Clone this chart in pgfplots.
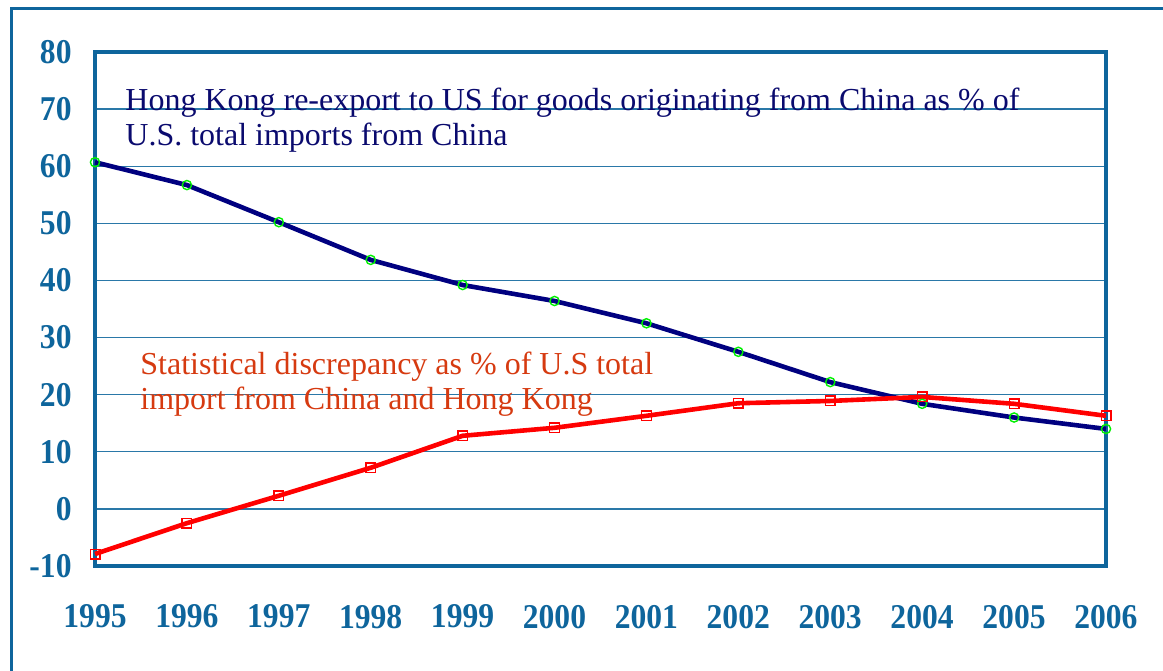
\documentclass[border=0pt]{standalone}
\usepackage{pgfplots}
\pgfplotsset{compat=1.18}
\usepackage{fontspec}
\setmainfont{Liberation Serif}
\definecolor{frameblue}{HTML}{0E659C}
\definecolor{gridblue}{HTML}{2A78A8}
\definecolor{navyline}{HTML}{000080}
\definecolor{navytext}{HTML}{0A0A6E}
\definecolor{redtext}{HTML}{D63A10}
\definecolor{mkgreen}{HTML}{00F000}
\begin{document}
\begin{tikzpicture}
\useasboundingbox (0,0) rectangle (581.5pt,335pt);
\begin{scope}
\clip (0,0) rectangle (581.5pt,335pt);
\draw[frameblue, line width=1.5pt] (5.5pt,-10pt) -- (5.5pt,330.5pt) -- (600pt,330.5pt);
\end{scope}
\begin{axis}[
  at={(47.5pt,52pt)}, anchor=south west,
  width=505.5pt, height=257pt, scale only axis,
  xmin=1995, xmax=2006, ymin=-10, ymax=80,
  xtick={1995,...,2006}, ytick={-10,0,...,80},
  ymajorgrids, grid style={gridblue, line width=0.7pt},
  major tick length=0pt,
  axis line style={frameblue, line width=2.2pt},
  tick label style={font=\fontsize{15.8}{18}\selectfont\bfseries, text=frameblue, yscale=1.1, /pgf/number format/assume math mode=true},
  x tick label style={/pgf/number format/1000 sep={}, anchor=north, inner sep=0pt, yshift=-17.5pt},
  y tick label style={anchor=east, inner sep=0pt, xshift=-11.5pt},
  clip=false,
]
\addplot[navyline, line width=2.3pt, mark=o, mark size=2.3pt, mark options={draw=mkgreen, line width=0.7pt, fill=navyline}] coordinates {
(1995,60.7) (1996,56.7) (1997,50.2) (1998,43.6) (1999,39.2) (2000,36.4) (2001,32.5) (2002,27.5) (2003,22.2) (2004,18.4) (2005,16.0) (2006,14.0)};
\addplot[red, line width=2.3pt, mark=square, mark size=2.4pt, mark options={draw=red, line width=0.7pt, fill=white}] coordinates {
(1995,-7.9) (1996,-2.5) (1997,2.3) (1998,7.2) (1999,12.8) (2000,14.2) (2001,16.3) (2002,18.5) (2003,18.9) (2004,19.6) (2005,18.4) (2006,16.3)};
\end{axis}
\node[anchor=base west, align=left, inner sep=0pt, text=navytext, font=\fontsize{16}{17.5}\selectfont] at (62.5pt,262pt) {Hong Kong re-export to US for goods originating from China as \% of\\U.S. total imports from China};
\node[anchor=base west, align=left, inner sep=0pt, text=redtext, font=\fontsize{16}{17.5}\selectfont] at (70pt,130pt) {Statistical discrepancy as \% of U.S total\\import from China and Hong Kong};
\end{tikzpicture}
\end{document}
